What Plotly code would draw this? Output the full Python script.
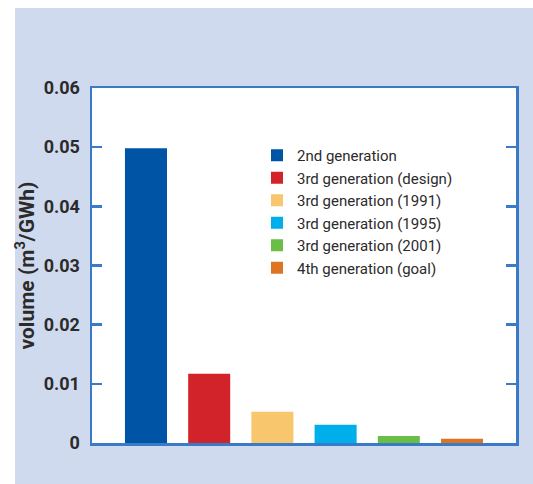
import plotly.graph_objects as go

categories = ["2nd generation", "3rd generation (design)", "3rd generation (1991)",
              "3rd generation (1995)", "3rd generation (2001)", "4th generation (goal)"]
volumes = [0.0498, 0.0117, 0.0053, 0.0031, 0.0012, 0.0007]
colors = ["#0054A6", "#D2232A", "#F7C66D", "#00AEEA", "#6ABD45", "#DD7422"]
y_ticks = [0, 0.01, 0.02, 0.03, 0.04, 0.05, 0.06]
y_tick_labels = ["0", "0.01", "0.02", "0.03", "0.04", "0.05", "0.06"]

W, H = 533, 484
L, R, T, B = 92, 17, 88, 41
pw, ph = W - L - R, H - T - B
panel_bg = "#D0DAEE"

fig = go.Figure()
for i, (cat, v, c) in enumerate(zip(categories, volumes, colors)):
    fig.add_trace(go.Bar(x=[i], y=[v], name=cat, marker=dict(color=c, line=dict(width=0)),
                         width=0.665, legendgroup=cat, hoverinfo="skip"))

axis_color = "#3A7BC8"
fig.update_layout(
    width=W, height=H,
    margin=dict(l=L, r=R, t=T, b=B, pad=0),
    paper_bgcolor=panel_bg,
    plot_bgcolor="white",
    barmode="overlay",
    hovermode=False,
    font=dict(family="Roboto", color="#2B2B2B"),
    showlegend=True,
    legend=dict(x=(257 - L) / pw, xanchor="left", y=1 - (139 - T) / ph, yanchor="top",
                bgcolor="rgba(0,0,0,0)", font=dict(size=15, color="#2B2B2B"),
                traceorder="normal", tracegroupgap=0, itemwidth=30),
    xaxis=dict(range=[-0.854, 5.854], showticklabels=False, ticks="", showgrid=False,
               zeroline=False, showline=True, linecolor=axis_color, linewidth=2.5, mirror=True),
    yaxis=dict(range=[0, 0.06], tickvals=y_ticks, ticktext=y_tick_labels, ticks="inside",
               ticklen=10, tickwidth=2.5, tickcolor=axis_color, showgrid=False, zeroline=False,
               showline=True, linecolor=axis_color, linewidth=2.5, mirror="ticks",
               tickfont=dict(size=18, family="Roboto", weight="bold", color="#2B2B2B"),
               ticklabelstandoff=6,
               title=dict(text="volume (m<sup>3</sup>/GWh)", standoff=4,
                          font=dict(size=21, family="Roboto", weight="bold", color="#2B2B2B"))),
    shapes=[
        dict(type="rect", xref="paper", yref="paper", x0=-L / pw, x1=(15 - L) / pw,
             y0=-B / ph, y1=(H - B) / ph, fillcolor="white", line=dict(width=0), layer="below"),
        dict(type="rect", xref="paper", yref="paper", x0=-L / pw, x1=(W - L) / pw,
             y0=(H - B - 8) / ph, y1=(H - B) / ph, fillcolor="white", line=dict(width=0), layer="below"),
    ],
)

fig.write_html(
    "out.html",
    config={"displayModeBar": False, "staticPlot": True},
    post_script="document.body.style.margin='0';"
                "document.body.style.overflow='hidden';"
                "document.documentElement.style.overflow='hidden';"
                "document.body.style.background='" + panel_bg + "';"
                "document.documentElement.style.background='" + panel_bg + "';",
)
